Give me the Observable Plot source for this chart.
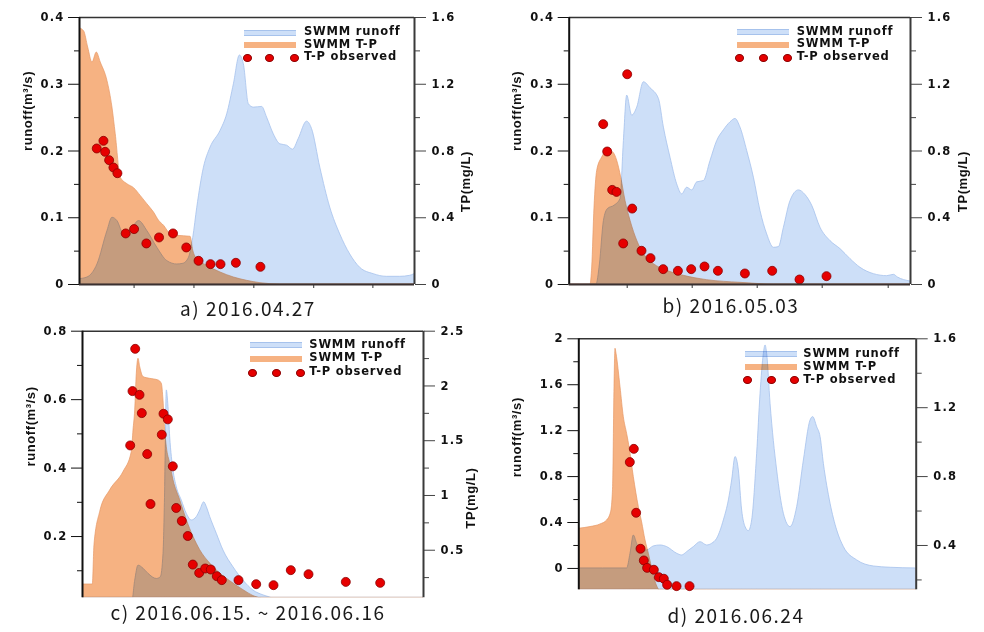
<!DOCTYPE html>
<html>
<head>
<meta charset="utf-8">
<script src="https://cdn.jsdelivr.net/npm/d3@7"></script>
<script src="https://cdn.jsdelivr.net/npm/@observablehq/plot@0.6"></script>
<style>
  body { margin: 0; background: #fff; }
  #root { position: relative; width: 984px; height: 632px; overflow: hidden; background: #fff; }
  .panel { position: absolute; }
  .panel svg text { letter-spacing: 1.2px; }
  .panel svg g.axtitle text { letter-spacing: 0.6px; }
  .cap { position: absolute; font-family: "Noto Sans CJK KR", "DejaVu Sans", sans-serif; font-size: 19px; letter-spacing: 1.5px; color: #1a1a1a; white-space: nowrap; transform: translate(-50%, -50%); line-height: 1; }
  .lg { position: absolute; font-family: "DejaVu Sans", sans-serif; font-weight: bold; font-size: 11.5px; letter-spacing: 0.8px; color: #111; white-space: nowrap; line-height: 1; }
  .sw { position: absolute; width: 52px; height: 6px; }
  .ld { position: absolute; width: 9px; height: 8px; border-radius: 50%; background: #e60000; border: 0.8px solid #8a0000; box-sizing: border-box; }
</style>
</head>
<body>
<div id="root"></div>
<script>
// ---------- data: [time, value] ; runoff in m3/s, T-P in mg/L ----------
const aRunoff = [[0,0.008],[8,0.0105],[18,0.030],[28,0.080],[33,0.100],[38,0.095],[44.7,0.075],[53,0.085],[59.7,0.095],[68,0.080],[78,0.055],[88,0.035],[98,0.030],[104,0.031],[109.7,0.040],[114,0.070],[118,0.115],[124.7,0.175],[131.3,0.205],[141.3,0.230],[148,0.255],[154.7,0.300],[160.7,0.343],[164.7,0.330],[169.7,0.270],[174.7,0.265],[183,0.266],[188,0.250],[194.7,0.225],[201.3,0.210],[208,0.208],[214,0.202],[219.7,0.218],[228,0.244],[233,0.233],[241.3,0.175],[251.3,0.115],[261.3,0.075],[271.3,0.045],[281.3,0.025],[294.7,0.0155],[308,0.0115],[321.3,0.0115],[331.3,0.013],[335.7,0.0155]];
const aTP = [[0,1.536],[4.7,1.516],[8.7,1.420],[13,1.330],[17.3,1.390],[21.3,1.330],[28,1.220],[33,1.061],[36.3,0.901],[41.3,0.641],[48,0.601],[54.7,0.577],[61.3,0.531],[68,0.481],[74.7,0.431],[79.7,0.382],[84.7,0.352],[91.3,0.302],[98,0.292],[111.3,0.286],[114,0.202],[118,0.152],[128,0.112],[141.3,0.072],[154.7,0.042],[168,0.022],[181.3,0.008],[201.3,0],[335.7,0]];
const aObs = [[17.3,0.815],[24,0.861],[25.7,0.795],[29.7,0.745],[34,0.701],[38,0.667],[46.3,0.306],[54.7,0.332],[67,0.246],[79.7,0.282],[93.7,0.306],[107,0.222],[119.3,0.142],[131.3,0.122],[141.3,0.122],[156.7,0.130],[181.3,0.106]];

const bRunoff = [[0,0],[27.3,0],[30.7,0.030],[34.7,0.095],[38.7,0.113],[45.3,0.118],[51.3,0.128],[54.7,0.215],[58,0.283],[63,0.253],[68,0.265],[74.7,0.303],[81.3,0.294],[89.7,0.278],[94.7,0.235],[101.3,0.190],[108,0.150],[113,0.135],[118,0.145],[123,0.141],[128,0.153],[134.7,0.155],[141.3,0.185],[148,0.215],[154.7,0.231],[161.3,0.243],[166.3,0.248],[171.3,0.235],[178,0.200],[184.7,0.160],[191.3,0.110],[198,0.075],[204.7,0.055],[209.7,0.056],[214.7,0.085],[221.3,0.125],[229.7,0.141],[236.3,0.134],[243,0.118],[251.3,0.085],[261.3,0.065],[271.3,0.053],[281.3,0.038],[291.3,0.025],[304.7,0.0155],[318,0.0125],[324.7,0.0145],[328.7,0.0105],[341.3,0.0045]];
const bTP = [[0,0],[21.3,0],[23,0.102],[25.3,0.461],[28,0.681],[33,0.761],[38.7,0.801],[44,0.791],[48,0.741],[52,0.641],[56.3,0.501],[61.3,0.382],[68,0.262],[74.7,0.182],[84.7,0.122],[98,0.082],[114.7,0.052],[138,0.026],[171.3,0.010],[204.7,0],[341.3,0]];
const bObs = [[34,0.961],[38,0.797],[43,0.567],[47.3,0.555],[54,0.246],[58,1.260],[63,0.455],[72.3,0.202],[81.3,0.158],[94,0.092],[108.7,0.082],[122,0.092],[135.3,0.108],[148.7,0.082],[175.7,0.066],[203,0.082],[230.3,0.030],[257.3,0.050]];

const cRunoff = [[0,0],[49.3,0],[52.7,0.071],[56,0.115],[61,0.106],[66,0.091],[74.3,0.076],[78.3,0.081],[81,0.149],[82.7,0.344],[84.3,0.627],[86,0.578],[87.7,0.490],[91,0.393],[94.3,0.344],[99.3,0.305],[104.3,0.266],[109.3,0.247],[114.3,0.257],[117.7,0.276],[121.7,0.300],[124.3,0.286],[127.7,0.257],[134.3,0.208],[141,0.159],[151,0.110],[161,0.071],[171,0.042],[181,0.028],[191,0.018],[201,0],[341,0]];
const cTP = [[0,0.187],[10.3,0.187],[12,0.550],[17.7,0.850],[27.7,1.047],[41,1.214],[49.3,1.397],[51,1.594],[52.7,1.777],[54.3,2.111],[56,2.248],[57.7,2.172],[61,2.081],[67.7,2.065],[76,2.050],[79.3,2.020],[81,1.868],[82.7,1.594],[84.3,1.442],[87.7,1.290],[91,1.138],[97.7,0.956],[104.3,0.774],[111,0.622],[117.7,0.500],[127.7,0.378],[137.7,0.287],[151,0.196],[161,0.135],[171,0.081],[181,0.05],[191,0],[341,0]];
const cObs = [[47.7,1.457],[50,1.953],[52.7,2.339],[57,1.919],[59.3,1.752],[64.7,1.378],[68,0.922],[79.3,1.555],[81,1.746],[85.3,1.695],[90.3,1.266],[93.7,0.886],[99.3,0.767],[105.3,0.630],[110.3,0.369],[116.7,0.293],[122.7,0.333],[128.3,0.324],[134.3,0.263],[139.3,0.227],[156,0.227],[173.7,0.190],[191,0.181],[208.3,0.318],[226,0.281],[263.3,0.211],[297.7,0.202]];

const dRunoff = [[0,0],[48.3,0],[51.7,0.128],[55,0.287],[58.3,0.215],[61.7,0.157],[68.3,0.157],[75,0.192],[81.7,0.200],[88.3,0.186],[98.3,0.128],[103.3,0.113],[108.3,0.142],[115,0.186],[121.7,0.229],[128.3,0.200],[133.3,0.215],[138.3,0.258],[145,0.418],[150,0.592],[153.3,0.766],[156.7,0.970],[160,0.853],[163.3,0.505],[166.7,0.360],[170,0.325],[173.3,0.418],[178.3,0.999],[181.7,1.521],[185,1.869],[186.7,1.942],[188.3,1.869],[191.7,1.434],[198.3,0.853],[205,0.476],[211.7,0.360],[218.3,0.534],[225,0.940],[231.7,1.289],[234.3,1.318],[238.3,1.231],[241.7,1.144],[245,0.911],[251.7,0.563],[258.3,0.331],[265,0.186],[278.3,0.070],[295,0.017],[311.7,0.006],[337.3,0]];
const dTP = [[0,0.497],[11.7,0.507],[21.7,0.522],[28.3,0.545],[32.3,0.594],[34.3,0.739],[35.7,1.319],[36.7,1.542],[37.7,1.513],[41.7,1.319],[45,1.145],[48.3,1.048],[51,0.961],[55,0.797],[60,0.623],[63.3,0.534],[66.7,0.429],[70,0.352],[73.3,0.267],[77.3,0.178],[80,0.143],[90,0.05],[100,0],[337.3,0]];
const dObs = [[51,0.884],[55,0.961],[57.3,0.590],[61.7,0.381],[65,0.313],[68.3,0.270],[75,0.259],[80,0.216],[85,0.207],[88.3,0.172],[97.7,0.164],[110.7,0.164]];

// tick values
const abLeftTicks = [0, 0.1, 0.2, 0.3, 0.4];
const abLeftMinor = [0.05, 0.15, 0.25, 0.35];
const abRightTicks = [0, 0.4, 0.8, 1.2, 1.6];
const abRightMinor = [0.2, 0.6, 1.0, 1.4];
const aXTicks = [54.7, 114.7, 174.7, 234.7, 294];
const bXTicks = [58, 123, 188, 253, 319];
const cLeftTicks = [0.2, 0.4, 0.6, 0.8];
const cLeftMinor = [0.1, 0.3, 0.5, 0.7];
const cRightTicks = [0.5, 1, 1.5, 2, 2.5];
const cRightMinor = [0.25, 0.75, 1.25, 1.75, 2.25];
const dLeftTicks = [0, 0.4, 0.8, 1.2, 1.6, 2];
const dLeftMinor = [0.2, 0.6, 1.0, 1.4, 1.8];
const dRightTicks = [0.4, 0.8, 1.2, 1.6];
const dRightMinor = [0.2, 0.6, 1.0, 1.4];

const legendLabels = ["SWMM runoff", "SWMM T-P", "T-P observed"];
const captions = ["a) 2016.04.27", "b) 2016.05.03", "c) 2016.06.15. ~ 2016.06.16", "d) 2016.06.24"];

// ---------- styles ----------
const BLUE = "#cddff8", BLUE_STROKE = "#a6c2ec";
const ORANGE = "#f6b282", ORANGE_STROKE = "#e79866";
const RED = "#e60000", RED_STROKE = "#8a0000";

const root = document.getElementById("root");
const fmt = v => d3.format("~g")(+(+v).toFixed(3));

function makePanel(o) {
  const [y0, y1] = o.yDomain;
  const toL = v => o.a + o.b * v;
  const marks = [
    Plot.areaY(o.tp, {x: d => d[0], y1: y0, y2: d => toL(d[1]), fill: ORANGE, stroke: ORANGE_STROKE, strokeWidth: 0.7, curve: "monotone-x", clip: true}),
    Plot.areaY(o.runoff, {x: d => d[0], y1: y0, y2: d => d[1], fill: BLUE, stroke: BLUE_STROKE, strokeWidth: 0.8, curve: "monotone-x", clip: true, mixBlendMode: "multiply"}),
    Plot.dot(o.obs, {x: d => d[0], y: d => toL(d[1]), r: 4.5, fill: RED, stroke: RED_STROKE, strokeWidth: 0.8}),
    Plot.axisY(o.leftTicks, {anchor: "left", tickSize: 11, tickPadding: 4, tickFormat: fmt, fontWeight: "bold", label: null}),
    Plot.axisY(o.leftMinor, {anchor: "left", tickSize: 5, tickFormat: () => "", label: null}),
    Plot.axisY(o.rightTicks.map(toL), {anchor: "right", tickSize: 11, tickPadding: 6, tickFormat: d => fmt((d - o.a) / o.b), fontWeight: "bold", label: null, stroke: "#444"}),
    Plot.axisY(o.rightMinor.map(toL), {anchor: "right", tickSize: 5, tickFormat: () => "", label: null, stroke: "#444"}),
    Plot.ruleY([y1], {stroke: "#333", strokeWidth: 1.6}),
    Plot.ruleX([o.xDomain[0]], {stroke: "#111", strokeWidth: 2}),
    Plot.ruleX([o.xDomain[1]], {stroke: "#3a3a3a", strokeWidth: 2}),
    Plot.text([o.leftTitle], {text: d => d, frameAnchor: "left", rotate: -90, dx: o.leftDx, dy: o.leftDy || 0, fontSize: 13, fontWeight: "bold", fontFamily: "Liberation Sans, Arial, sans-serif", className: "axtitle"})
  ];
  if (o.rightTitle) marks.push(Plot.text([o.rightTitle], {text: d => d, frameAnchor: "right", rotate: -90, dx: o.rightDx, dy: o.rightDy || 0, fontSize: 13, fontWeight: "bold", fontFamily: "Liberation Sans, Arial, sans-serif", className: "axtitle"}));
  if (o.xTicks) {
    marks.push(Plot.ruleY([y0], {stroke: "#3a3030", strokeWidth: 1.8}));
    marks.push(Plot.axisX(o.xTicks, {anchor: "bottom", tickSize: 4, tickFormat: () => "", label: null, stroke: "#333"}));
  }
  const fig = Plot.plot({
    width: o.width, height: o.height,
    marginLeft: o.m[0], marginRight: o.m[1], marginTop: o.m[2], marginBottom: o.m[3],
    x: {domain: o.xDomain, axis: o.xTicks ? undefined : null},
    y: {domain: o.yDomain},
    style: {fontFamily: "DejaVu Sans, sans-serif", fontSize: "11.5px", color: "#111", background: "transparent", overflow: "visible"},
    marks
  });
  const areas = fig.querySelectorAll('g[aria-label="area"]');
  if (areas[1]) areas[1].style.mixBlendMode = "multiply";
  const div = document.createElement("div");
  div.className = "panel";
  Object.assign(div.style, {left: o.left + "px", top: o.top + "px", width: o.width + "px", height: o.height + "px"});
  div.appendChild(fig);
  root.appendChild(div);
}

function legend(x0, r0, gap, textDx, dotsDx) {
  const add = (cls, css, txt) => {
    const e = document.createElement("div");
    e.className = cls;
    Object.assign(e.style, css);
    if (txt) e.textContent = txt;
    root.appendChild(e);
  };
  add("sw", {left: x0 + "px", top: (r0 - 2) + "px", background: BLUE, borderTop: "1px solid " + BLUE_STROKE, borderBottom: "1px solid " + BLUE_STROKE, height: "4px", mixBlendMode: "multiply"});
  add("sw", {left: x0 + "px", top: (r0 + gap - 2) + "px", background: ORANGE, mixBlendMode: "multiply"});
  dotsDx.forEach(dx => add("ld", {left: (x0 + dx - 4.5) + "px", top: (r0 + 2 * gap - 3) + "px"}));
  legendLabels.forEach((t, i) => add("lg", {left: (x0 + textDx) + "px", top: (r0 + i * gap - 5.5) + "px"}, t));
}

function caption(txt, cx, cy) {
  const e = document.createElement("div");
  e.className = "cap";
  e.style.left = cx + "px";
  e.style.top = cy + "px";
  e.textContent = txt;
  root.appendChild(e);
}

makePanel({left: 0, top: 0, width: 490, height: 292, m: [79, 76, 17, 8],
  xDomain: [0, 335.7], yDomain: [0, 0.4], a: 0, b: 0.25,
  runoff: aRunoff, tp: aTP, obs: aObs,
  leftTicks: abLeftTicks, leftMinor: abLeftMinor, rightTicks: abRightTicks, rightMinor: abRightMinor, xTicks: aXTicks,
  leftTitle: "runoff(m³/s)", leftDx: -52, rightTitle: "TP(mg/L)", rightDx: 51});

makePanel({left: 490, top: 0, width: 494, height: 292, m: [78.7, 74, 17, 8],
  xDomain: [0, 341.3], yDomain: [0, 0.4], a: 0, b: 0.25,
  runoff: bRunoff, tp: bTP, obs: bObs,
  leftTicks: abLeftTicks, leftMinor: abLeftMinor, rightTicks: abRightTicks, rightMinor: abRightMinor, xTicks: bXTicks,
  leftTitle: "runoff(m³/s)", leftDx: -52, rightTitle: "TP(mg/L)", rightDx: 52});

makePanel({left: 0, top: 320, width: 490, height: 285, m: [82, 67, 10.7, 7.7],
  xDomain: [0, 341], yDomain: [0.021, 0.8], a: 0, b: 0.32,
  runoff: cRunoff, tp: cTP, obs: cObs,
  leftTicks: cLeftTicks, leftMinor: cLeftMinor, rightTicks: cRightTicks, rightMinor: cRightMinor,
  leftTitle: "runoff(m³/s)", leftDx: -52, leftDy: 2, rightTitle: "TP(mg/L)", rightDx: 47, rightDy: 3});

makePanel({left: 490, top: 320, width: 494, height: 280, m: [88.3, 68.3, 18.3, 10.7],
  xDomain: [0, 337.3], yDomain: [-0.186, 2], a: -0.4, b: 1.5,
  runoff: dRunoff, tp: dTP, obs: dObs,
  leftTicks: dLeftTicks, leftMinor: dLeftMinor, rightTicks: dRightTicks, rightMinor: dRightMinor,
  leftTitle: "runoff(m³/s)", leftDx: -61.6, leftDy: 13});

legend(244, 31.5, 12.7, 60, [3, 25, 50]);
legend(736.7, 31, 12.8, 60, [2.6, 26.6, 50.6]);
legend(250, 344, 13.8, 59.3, [2, 26, 50]);
legend(745, 353.3, 13, 58.3, [2, 26, 49]);

caption(captions[0], 248, 306.5);
caption(captions[1], 731, 304);
caption(captions[2], 248, 611);
caption(captions[3], 736, 614);
</script>
</body>
</html>
